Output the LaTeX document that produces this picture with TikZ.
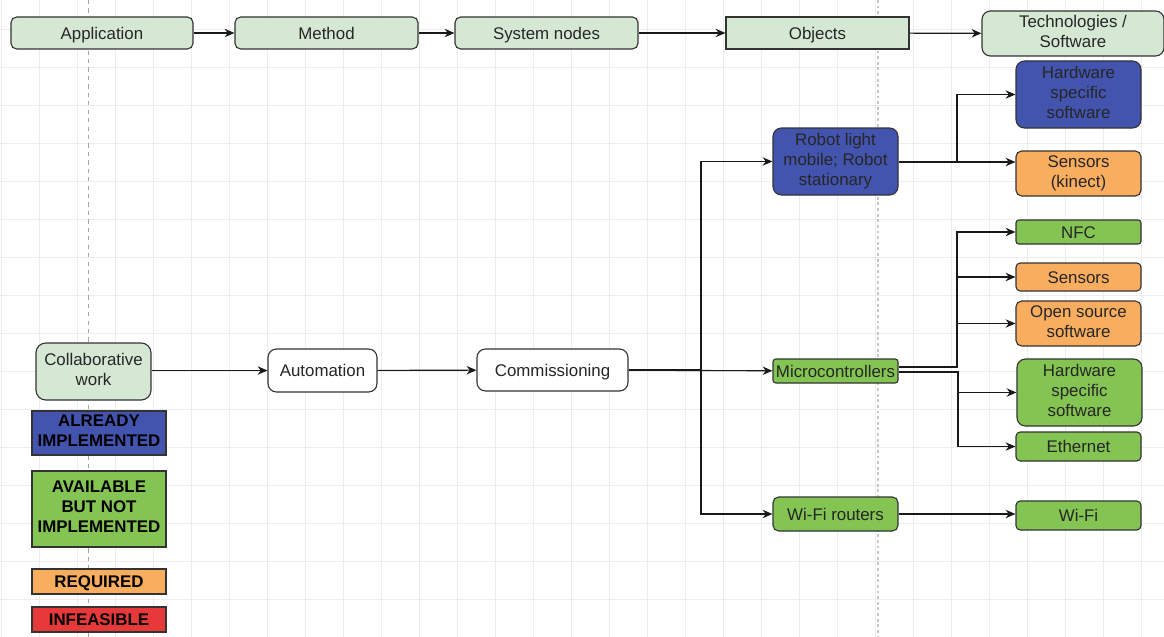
\documentclass[tikz,border=0pt]{standalone}
\usepackage{fontspec}
\setmainfont{Liberation Sans}
\usetikzlibrary{arrows.meta}

\definecolor{headgreen}{HTML}{D5E8D4}
\definecolor{doneblue}{HTML}{4254AE}
\definecolor{availgreen}{HTML}{84C452}
\definecolor{needorange}{HTML}{F9AD5F}
\definecolor{infred}{HTML}{E8393A}

% line strut that keeps capitals centred in the box
\newcommand{\capstrut}{\rule[-2.8pt]{0pt}{14.2pt}}

\begin{document}
\begin{tikzpicture}
    [x=0.025cm, y=-0.025cm,
    wh/.style 2 args={minimum width=#1*0.025cm, minimum height=#2*0.025cm},
    box/.style={draw=black!80, line width=0.8pt, rounded corners=4pt,
        align=center, inner sep=1pt, text=black!85,
        font=\fontsize{12}{14.2}\selectfont,
        execute at begin node=\capstrut, execute at end node=\capstrut},
    header/.style={box, fill=headgreen},
    done/.style={box, fill=doneblue},
    avail/.style={box, fill=availgreen},
    need/.style={box, fill=needorange},
    legend/.style={box, rounded corners=0pt, wh={134}{#1},
        font=\fontsize{12}{14.2}\selectfont\bfseries, text=black},
    arr/.style={draw=black!90, line width=0.8pt, -{Stealth[length=7pt,width=6pt]}},
    gridline/.style={draw=black!7, line width=0.4pt}
    ]
    \useasboundingbox (0,0) rectangle (1164,637);

    % background grid and guide lines
    \foreach \x in {1,39,...,1164} \draw[gridline] (\x,0) -- (\x,637);
    \foreach \y in {29,67,...,637} \draw[gridline] (0,\y) -- (1164,\y);
    \draw[black!35, dash pattern=on 3pt off 3pt] (88,0) -- (88,637);
    \draw[black!22, dash pattern=on 2pt off 2pt, line width=1pt] (878,0) -- (878,637);

    % header row
    \node[header, wh={182}{32}] (app) at (102,33) {Application};
    \node[header, wh={183}{32}] (meth) at (326.5,33) {Method};
    \node[header, wh={183}{32}] (sysn) at (546.5,33) {System nodes};
    \node[header, wh={183}{32}, rounded corners=0pt] (obj) at (817.5,33) {Objects};
    \node[header, wh={182}{45}, rounded corners=6pt] (tech) at (1073,33.5) {Technologies /\\Software};

    \draw[arr] (app) -- (meth);
    \draw[arr] (meth) -- (sysn);
    \draw[arr] (sysn) -- (obj);
    \draw[arr] (obj) -- (tech);

    % main chain
    \node[header, wh={115}{57}, rounded corners=7pt] (collab) at (93.5,371.5) {Collaborative\\work};
    \node[box, fill=white, wh={109}{43}, rounded corners=6pt] (autom) at (322.5,370.5) {Automation};
    \node[box, fill=white, wh={151}{42}, rounded corners=6pt] (comm) at (552.5,370) {Commissioning};

    \draw[arr] (collab.east |- autom) -- (autom);
    \draw[arr] (autom) -- (comm);

    % objects
    \node[done, wh={125}{67}, rounded corners=6pt] (robot) at (835.5,161.5) {Robot light\\mobile; Robot\\stationary};
    \node[avail, wh={125}{24}, rounded corners=2pt, inner sep=0pt] (micro) at (835.5,371) {Microcontrollers};
    \node[avail, wh={125}{34}] (wifir) at (835.5,514) {Wi-Fi routers};

    \coordinate (split) at (701,370);
    \draw[arr] (comm) -- (micro);
    \draw[arr] (comm.east) -- (split) |- (robot);
    \draw[arr] (split) |- (wifir);

    % technologies
    \node[done, wh={125}{67}, rounded corners=6pt] (hwa) at (1078.5,94.5) {Hardware\\specific\\software};
    \node[need, wh={125}{45}] (sensk) at (1078.5,173.5) {Sensors\\(kinect)};
    \node[avail, wh={125}{24}, rounded corners=2pt] (nfc) at (1078.5,232) {NFC};
    \node[need, wh={125}{28}, rounded corners=3pt] (sens) at (1078.5,277) {Sensors};
    \node[need, wh={125}{45}] (oss) at (1078.5,323.5) {Open source\\software};
    \node[avail, wh={125}{67}, rounded corners=6pt] (hwb) at (1079.5,392.5) {Hardware\\specific\\software};
    \node[avail, wh={125}{29}, rounded corners=3pt] (eth) at (1078.5,446.5) {Ethernet};
    \node[avail, wh={125}{29}, rounded corners=3pt] (wifi) at (1078.5,515.5) {Wi-Fi};

    \coordinate (ra) at (957,162);
    \draw[arr] (robot.east |- ra) -- (ra) |- (hwa);
    \draw[arr] (robot.east |- ra) -- (ra -| sensk.west);

    \coordinate (mup) at (957,367);
    \coordinate (mdown) at (958,372);
    \draw[arr] (micro.east |- mup) -- (mup) |- (nfc);
    \draw[arr] (mup) |- (sens);
    \draw[arr] (mup) |- (oss);
    \draw[arr] (micro.east |- mdown) -- (mdown) |- (hwb);
    \draw[arr] (mdown) |- (eth);

    \draw[arr] (wifir) -- (wifir -| wifi.west);

    % legend
    \node[legend={44}, fill=doneblue] (lgdone) at (99,433) {ALREADY\\IMPLEMENTED};
    \node[legend={76}, fill=availgreen] (lgavail) at (99,509) {AVAILABLE\\BUT NOT\\IMPLEMENTED};
    \node[legend={25}, fill=needorange] (lgneed) at (99,581.5) {REQUIRED};
    \node[legend={25}, fill=infred] (lginf) at (99,619.5) {INFEASIBLE};
\end{tikzpicture}
\end{document}
